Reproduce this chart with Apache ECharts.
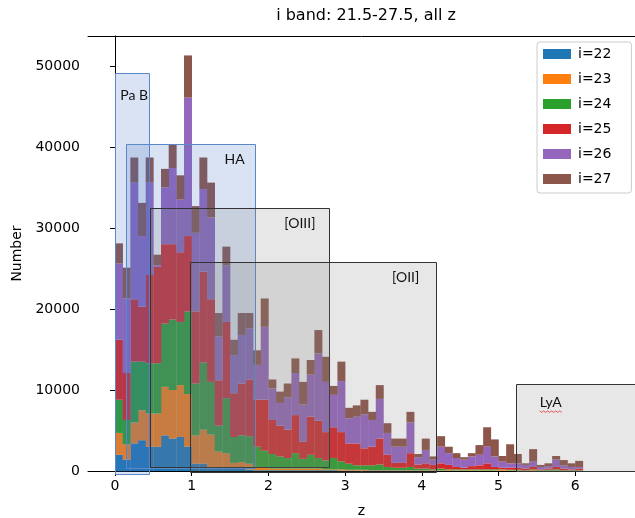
<!DOCTYPE html>
<html><head><meta charset="utf-8">
<script src="https://cdn.jsdelivr.net/npm/echarts@6/dist/echarts.min.js"></script>
<style>html,body{margin:0;padding:0;background:#fff}#c{width:635px;height:518px}</style>
</head><body><div id="c"></div>
<script>
// ---- data ----
const binLeft = [0.0,0.1,0.2,0.3,0.4,0.5,0.6,0.7,0.8,0.9,1.0,1.1,1.2,1.3,1.4,1.5,1.6,1.7,1.8,1.9,2.0,2.1,2.2,2.3,2.4,2.5,2.6,2.7,2.8,2.9,3.0,3.1,3.2,3.3,3.4,3.5,3.6,3.7,3.8,3.9,4.0,4.1,4.2,4.3,4.4,4.5,4.6,4.7,4.8,4.9,5.0,5.1,5.2,5.3,5.4,5.5,5.6,5.7,5.8,5.9,6.0];
const binWidth = 0.1;
const seriesNames = ['i=22','i=23','i=24','i=25','i=26','i=27'];
const i22 = [2000,1400,3400,3800,3000,3000,4400,4000,4200,3000, 900,900,500,300,400,300,300,200,100,100, 100,100,100,100,100,100,100,100,100,50, 50,50,50,50,50,50,50,50,50,50, 50,50,50,30,30,30,30,30,30,30, 30,30,30,20,20,20,20,20,20,20, 20];
const i23 = [2700,1900,2600,3700,4100,4100,6000,6000,6400,6500, 3500,4200,4000,2100,1800,700,800,700,400,300, 200,200,200,200,200,200,200,100,100,150, 100,100,100,50,50,50,50,50,50,50, 50,50,50,70,50,50,50,50,50,50, 120,50,50,30,80,30,30,30,30,30, 30];
const i24 = [4100,3000,7500,6000,6200,6200,7800,8700,7800,10200, 6400,8300,6500,3200,6800,3200,3300,3400,2500,2100, 1800,1500,1300,1900,1200,1700,1300,1100,1400,1000, 750,550,550,600,700,400,300,300,400,200, 200,100,200,100,120,120,120,120,120,120, 50,70,70,50,100,50,100,150,50,50, 50];
const i25 = [7400,5800,7700,6800,10900,11900,9800,9300,8600,9300, 8900,11200,10200,5600,9400,5400,6400,7000,5800,6300, 4200,3800,3500,4700,2100,4700,4600,3500,3800,3600, 2500,2700,2100,2300,3200,1500,600,600,1700,500, 650,550,650,550,300,200,400,500,750,300, 200,250,250,200,300,100,150,300,200,100, 200];
const i26 = [9400,9200,14400,8700,11400,200,7000,9400,6500,17100, 9700,10200,10100,5400,7000,4700,6000,6300,4300,9000, 3900,2800,4000,5200,4600,5200,8300,6200,4000,6300, 3100,3300,4200,3300,4900,2700,2000,2000,3800,900, 1650,650,2050,1450,1100,1000,1200,1300,2050,1300, 750,550,550,450,650,300,300,900,400,300, 200];
const i27 = [2500,3800,3100,4100,3100,1300,2300,2900,3000,5200, 3300,3900,4300,2900,2300,1900,2700,1900,1800,3500, 1100,1400,1700,1800,2800,1800,2900,3100,1100,2400, 1300,1400,1800,1000,1700,1200,1000,1000,1300,400, 1400,400,1300,800,600,300,400,1200,2400,2100, 700,2350,1150,200,1550,250,350,450,650,450, 750];
const colors = ['#1f77b4','#ff7f0e','#2ca02c','#d62728','#9467bd','#8c564b'];
const xTicks = [0,1,2,3,4,5,6];
// annotation boxes (drawn over the histogram)
const boxNames  = ['Pa B','HA','[OIII]','[OII]','LyA'];
const boxZ0     = [0.0, 0.143, 0.45, 0.978, 5.23];
const boxZ1     = [0.443, 1.826, 2.785, 4.187, 7.2];
const boxLow    = [-370, 370, 490, -120, 0];
const boxHigh   = [49140, 40370, 32470, 25800, 10740];
const labelZ    = [0.25, 1.56, 2.41, 3.79, 5.68];
const labelY    = [46300, 38500, 30500, 23850, 8500];
const boxKind   = ['blue','blue','gray','gray','gray'];

// ---- build stacked rect data ----
const all = [i22,i23,i24,i25,i26,i27];
const cum = binLeft.map(() => 0);
const series = all.map((vals, s) => {
  const data = vals.map((v, k) => {
    const base = cum[k];
    cum[k] += v;
    return [binLeft[k], binLeft[k] + binWidth, base, base + v];
  });
  return {
    name: seriesNames[s], type: 'custom', z: 2,
    itemStyle: {color: colors[s]},
    encode: {x: [0, 1], y: [2, 3]},
    renderItem: function (params, api) {
      const p0 = api.coord([api.value(0), api.value(2)]);
      const p1 = api.coord([api.value(1), api.value(3)]);
      return {type: 'rect',
        shape: {x: p0[0], y: p1[1], width: p1[0] - p0[0] + 0.3, height: p0[1] - p1[1]},
        style: {fill: colors[s]}};
    },
    data: data
  };
});

const boxData = boxNames.map((n, i) => [boxZ0[i], boxZ1[i], boxLow[i], boxHigh[i], labelZ[i], labelY[i]]);
series.push({
  name: 'boxes', type: 'custom', z: 10, clip: false, silent: true,
  encode: {x: [0, 1], y: [2, 3]},
  renderItem: function (params, api) {
    const i = params.dataIndex;
    const p0 = api.coord([api.value(0), api.value(2)]);
    const p1 = api.coord([api.value(1), api.value(3)]);
    const lp = api.coord([api.value(4), api.value(5)]);
    const blue = boxKind[i] === 'blue';
    const children = [{
      type: 'rect',
      shape: {x: Math.round(p0[0]) + 0.5, y: Math.round(p1[1]) + 0.5, width: Math.round(p1[0] - p0[0]), height: Math.round(p0[1] - p1[1])},
      style: {fill: blue ? 'rgba(68,114,196,0.2)' : 'rgba(128,128,128,0.19)',
              stroke: blue ? '#5a88c8' : '#333333', lineWidth: 1}
    }, {
      type: 'text', x: lp[0], y: lp[1],
      style: {text: boxNames[i], fill: '#111', font: '14px Lato', align: 'center', verticalAlign: 'middle', textAlign: 'center', textVerticalAlign: 'middle'}
    }];
    if (boxNames[i] === 'LyA') {
      const pts = [];
      for (let t = 0; t <= 22; t += 2) pts.push([lp[0] - 11 + t, lp[1] + 9 + ((t / 2) % 2 ? 1.2 : -0.2)]);
      children.push({type: 'polyline', shape: {points: pts}, style: {stroke: '#e03030', lineWidth: 0.8, fill: null}});
    }
    return {type: 'group', children: children};
  },
  data: boxData
});

const chart = echarts.init(document.getElementById('c'), null, {renderer: 'canvas'});
const font = 'DejaVu Sans';
chart.setOption({
  animation: false,
  backgroundColor: '#fff',
  title: {text: 'i band: 21.5-27.5, all z', left: 361, top: 3, textAlign: 'center',
    textStyle: {fontFamily: font, fontSize: 16, fontWeight: 'normal', color: '#000'}},
  grid: {left: 88, top: 36, right: 0, bottom: 47, containLabel: false, outerBoundsMode: 'none'},
  legend: {
    data: seriesNames, orient: 'vertical', left: 537, top: 42, icon: 'rect',
    itemWidth: 28, itemHeight: 10, itemGap: 11, width: 80,
    padding: [5, 20, 7, 6], backgroundColor: 'rgba(255,255,255,0.85)',
    borderColor: '#cccccc', borderWidth: 1, borderRadius: 3,
    textStyle: {fontFamily: font, fontSize: 14, color: '#000', lineHeight: 14, padding: [0, 0, 0, 2]}
  },
  xAxis: [{
    type: 'value', min: -0.352, max: 6.78, position: 'bottom',
    name: 'z', nameLocation: 'middle', nameGap: 33,
    nameTextStyle: {fontFamily: font, fontSize: 14, color: '#000'},
    axisLine: {show: true, onZero: false, lineStyle: {color: '#000', width: 1}},
    axisTick: {show: true, customValues: xTicks, length: 5, lineStyle: {color: '#000'}},
    axisLabel: {customValues: xTicks, fontFamily: font, fontSize: 14, color: '#000', margin: 8,
      formatter: v => String(v)},
    splitLine: {show: false}
  }, {
    type: 'value', min: -0.352, max: 6.78, position: 'top',
    axisLine: {show: true, onZero: false, lineStyle: {color: '#000', width: 1}},
    axisTick: {show: false}, axisLabel: {show: false}, splitLine: {show: false}
  }],
  yAxis: {
    type: 'value', min: 0, max: 53700, interval: 10000,
    name: 'Number', nameLocation: 'middle', nameGap: 62,
    nameTextStyle: {fontFamily: font, fontSize: 14, color: '#000'},
    axisLine: {show: true, lineStyle: {color: '#000', width: 1}},
    axisTick: {show: true, length: 5, lineStyle: {color: '#000'}},
    axisLabel: {fontFamily: font, fontSize: 14, color: '#000', margin: 8, showMaxLabel: false,
      formatter: v => (v % 10000 === 0 ? String(v) : '')},
    splitLine: {show: false}
  },
  series: series
});
</script></body></html>
